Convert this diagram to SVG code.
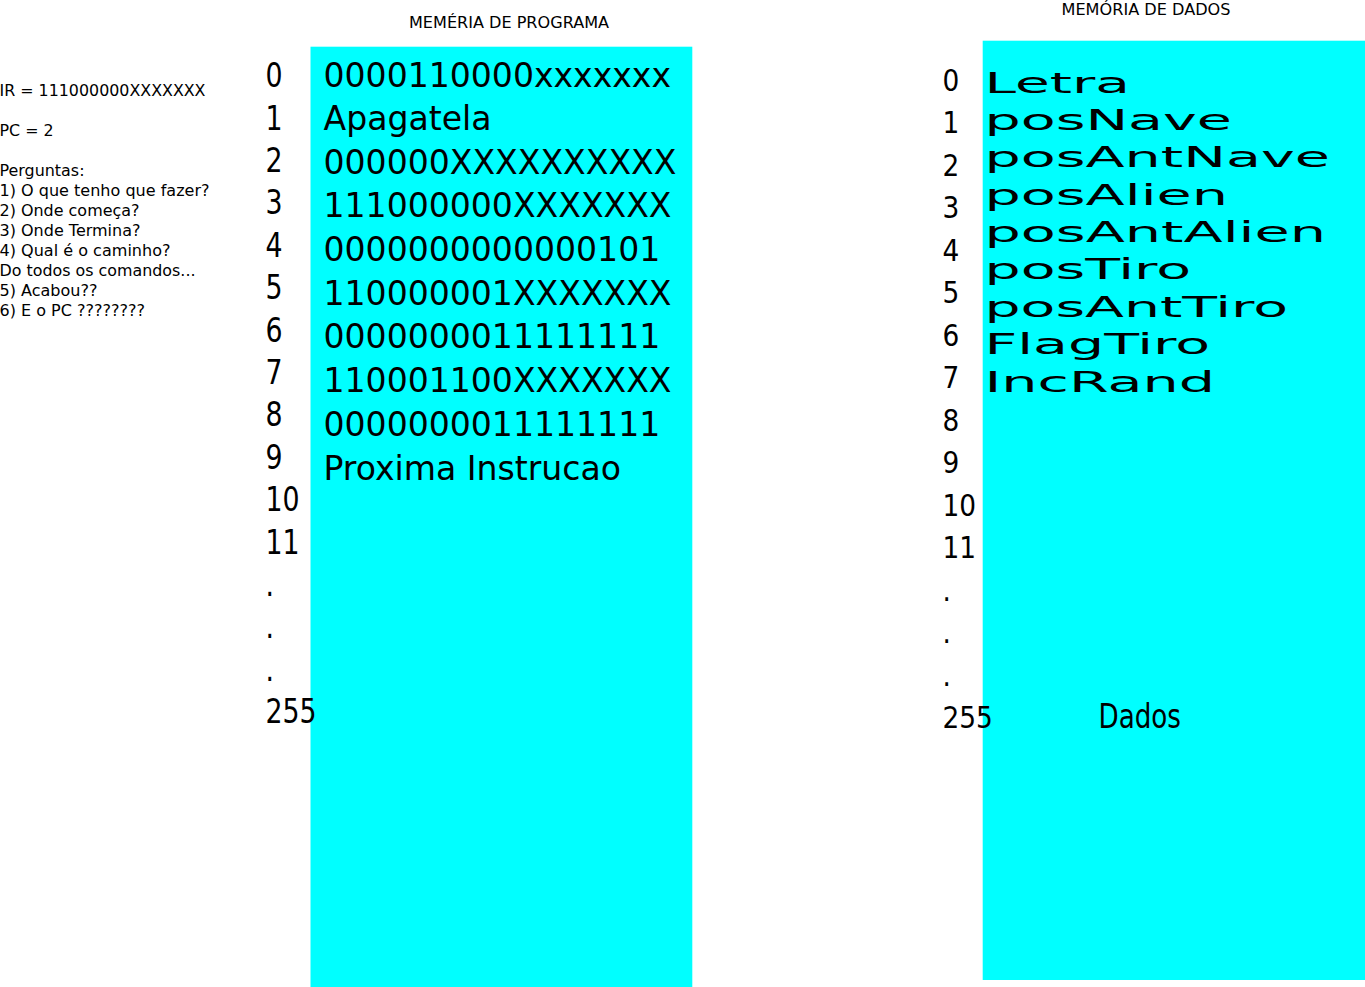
<svg xmlns="http://www.w3.org/2000/svg" width="1365" height="987" viewBox="0 0 1365 987">
<style>
text{font-family:"DejaVu Sans","Liberation Sans",sans-serif;fill:#000}
.mem{fill:#00ffff}
.note{font-size:15px}
.title{font-size:15px}
.pnum{font-size:33.5px}
.dnum{font-size:30px}
.cell{font-size:33.1px}
.dcell{font-size:29px}
</style>
<rect width="1365" height="987" fill="#fff"/>

<g id="notes">
<text class="note" x="-0.5" y="96" textLength="206" lengthAdjust="spacingAndGlyphs">IR = 111000000XXXXXXX</text>
<text class="note" x="-0.5" y="136" textLength="54" lengthAdjust="spacingAndGlyphs">PC = 2</text>
<text class="note" x="-0.5" y="176" textLength="85" lengthAdjust="spacingAndGlyphs">Perguntas:</text>
<text class="note" x="-0.5" y="196" textLength="210" lengthAdjust="spacingAndGlyphs">1) O que tenho que fazer?</text>
<text class="note" x="-0.5" y="215.5" textLength="140" lengthAdjust="spacingAndGlyphs">2) Onde começa?</text>
<text class="note" x="-0.5" y="235.5" textLength="141" lengthAdjust="spacingAndGlyphs">3) Onde Termina?</text>
<text class="note" x="-0.5" y="255.5" textLength="171" lengthAdjust="spacingAndGlyphs">4) Qual é o caminho?</text>
<text class="note" x="-0.5" y="275.5" textLength="196" lengthAdjust="spacingAndGlyphs">Do todos os comandos...</text>
<text class="note" x="-0.5" y="295.5" textLength="98" lengthAdjust="spacingAndGlyphs">5) Acabou??</text>
<text class="note" x="-0.5" y="315.5" textLength="145.5" lengthAdjust="spacingAndGlyphs">6) E o PC ????????</text>
</g>

<g id="memoria-programa">
<text class="title" x="409" y="28.3" textLength="200" lengthAdjust="spacingAndGlyphs">MEMÉRIA DE PROGRAMA</text>
<rect class="mem" x="310.5" y="46.7" width="381.8" height="940.3"/>
<g transform="translate(265.5,0) scale(0.8,1)">
<text class="pnum" x="0" y="87.3">0</text>
<text class="pnum" x="0" y="129.7">1</text>
<text class="pnum" x="0" y="172.1">2</text>
<text class="pnum" x="0" y="214.5">3</text>
<text class="pnum" x="0" y="256.9">4</text>
<text class="pnum" x="0" y="299.3">5</text>
<text class="pnum" x="0" y="341.7">6</text>
<text class="pnum" x="0" y="384.1">7</text>
<text class="pnum" x="0" y="426.5">8</text>
<text class="pnum" x="0" y="468.9">9</text>
<text class="pnum" x="0" y="511.3">10</text>
<text class="pnum" x="0" y="553.7">11</text>
<text class="pnum" x="0" y="596.1">.</text>
<text class="pnum" x="0" y="638.5">.</text>
<text class="pnum" x="0" y="680.9">.</text>
<text class="pnum" x="0" y="723.3">255</text>
</g>
<text class="cell" x="323.5" y="87.3">0000110000xxxxxxx</text>
<text class="cell" x="323.5" y="130">Apagatela</text>
<text class="cell" x="323.5" y="174">000000XXXXXXXXXX</text>
<text class="cell" x="323.5" y="217.3">111000000XXXXXXX</text>
<text class="cell" x="323.5" y="260.7">0000000000000101</text>
<text class="cell" x="323.5" y="305">110000001XXXXXXX</text>
<text class="cell" x="323.5" y="348.3">0000000011111111</text>
<text class="cell" x="323.5" y="391.7">110001100XXXXXXX</text>
<text class="cell" x="323.5" y="436">0000000011111111</text>
<text class="cell" x="323.5" y="480">Proxima Instrucao</text>
</g>

<g id="memoria-dados">
<text class="title" x="1061.5" y="15" textLength="169" lengthAdjust="spacingAndGlyphs">MEMÓRIA DE DADOS</text>
<rect class="mem" x="982.7" y="40.7" width="382.3" height="939.3"/>
<g transform="translate(942.5,0) scale(0.88,1)">
<text class="dnum" x="0" y="90.7">0</text>
<text class="dnum" x="0" y="133.2">1</text>
<text class="dnum" x="0" y="175.7">2</text>
<text class="dnum" x="0" y="218.2">3</text>
<text class="dnum" x="0" y="260.7">4</text>
<text class="dnum" x="0" y="303.2">5</text>
<text class="dnum" x="0" y="345.7">6</text>
<text class="dnum" x="0" y="388.2">7</text>
<text class="dnum" x="0" y="430.7">8</text>
<text class="dnum" x="0" y="473.2">9</text>
<text class="dnum" x="0" y="515.7">10</text>
<text class="dnum" x="0" y="558.2">11</text>
<text class="dnum" x="0" y="600.7">.</text>
<text class="dnum" x="0" y="643.2">.</text>
<text class="dnum" x="0" y="685.7">.</text>
<text class="dnum" x="0" y="728.2">255</text>
</g>
<text class="dcell" x="984.5" y="92.7" textLength="145.5" lengthAdjust="spacingAndGlyphs">Letra</text>
<text class="dcell" x="984.5" y="130" textLength="247.5" lengthAdjust="spacingAndGlyphs">posNave</text>
<text class="dcell" x="984.5" y="167.3" textLength="345.5" lengthAdjust="spacingAndGlyphs">posAntNave</text>
<text class="dcell" x="984.5" y="205" textLength="243.5" lengthAdjust="spacingAndGlyphs">posAlien</text>
<text class="dcell" x="984.5" y="242.3" textLength="341.5" lengthAdjust="spacingAndGlyphs">posAntAlien</text>
<text class="dcell" x="984.5" y="279.3" textLength="206.5" lengthAdjust="spacingAndGlyphs">posTiro</text>
<text class="dcell" x="984.5" y="316.7" textLength="303.5" lengthAdjust="spacingAndGlyphs">posAntTiro</text>
<text class="dcell" x="984.5" y="354" textLength="225.5" lengthAdjust="spacingAndGlyphs">FlagTiro</text>
<text class="dcell" x="984.5" y="391.7" textLength="230.5" lengthAdjust="spacingAndGlyphs">IncRand</text>
<g transform="translate(1098.5,0) scale(0.77,1)">
<text style="font-size:34px" x="0" y="728.3">Dados</text>
</g>
</g>
</svg>
